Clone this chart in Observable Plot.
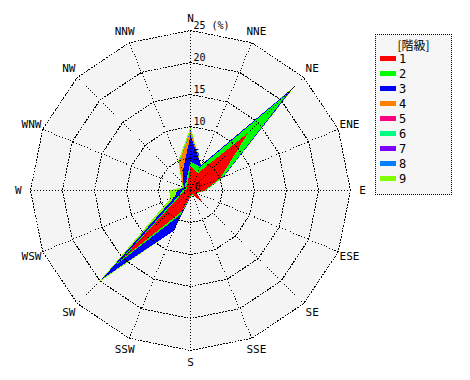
<!DOCTYPE html>
<html><head><meta charset="utf-8">
<script src="https://cdn.jsdelivr.net/npm/d3@7"></script>
<script src="https://cdn.jsdelivr.net/npm/@observablehq/plot@0.6"></script>
<style>
body{margin:0;background:#fff;}
#wrap{position:relative;width:470px;height:380px;}
#legend{position:absolute;left:375px;top:34px;width:77px;height:161px;border:1px dotted #000;background:#f6f6f6;box-sizing:border-box;font-family:"DejaVu Sans Mono","Noto Sans CJK JP",monospace;font-size:12px;color:#000;}
#legend .title{position:absolute;left:0;width:100%;top:2px;text-align:center;font-family:"Noto Sans CJK JP",monospace;font-size:12px;line-height:15px;}
#legend .item{position:absolute;left:4px;height:14px;line-height:14px;}
#legend .sw{display:inline-block;width:16px;height:5px;vertical-align:middle;margin-right:3px;position:relative;top:-1px;}
</style></head>
<body><div id="wrap"><div id="chart"></div><div id="legend"></div></div>
<script>
const directions = ["N","NNE","NE","ENE","E","ESE","SE","SSE","S","SSW","SW","WSW","W","WNW","NW","NNW"];
const classes = ["1","2","3","4","5","6","7","8","9"];
const colors = ["#ff0000","#00ff00","#0000ff","#ff8000","#ff0080","#00ff80","#8000ff","#0080ff","#80ff00"];
// frequency (%) per class, in direction order N..NNW
const c1 = [3.9, 2.9, 12.7, 5.0, 2.2, 1.0, 2.6, 0.6, 0.9, 3.5, 15.5, 1.5, 0.9, 0.6, 0.9, 1.2];
const c2 = [0.6, 1.1,  8.9, 0.5, 0.2, 0.1, 0.0, 0.1, 0.1, 0.6,  0.8, 0.4, 0.4, 0.2, 0.3, 0.5];
const c3 = [4.1, 0.3,  1.2, 0.1, 0.0, 0.0, 0.0, 0.0, 0.1, 2.7,  3.2, 0.8, 0.8, 0.3, 0.4, 1.5];
const c4 = [0.5, 0.0,  0.0, 0.0, 0.0, 0.0, 0.0, 0.0, 0.0, 0.0,  0.0, 0.0, 0.0, 0.1, 0.2, 1.5];
const c5 = [0.0, 0.0,  0.0, 0.0, 0.0, 0.0, 0.0, 0.0, 0.0, 0.0,  0.0, 0.0, 0.0, 0.0, 0.0, 0.0];
const c6 = [0.0, 0.0,  0.0, 0.0, 0.0, 0.0, 0.0, 0.0, 0.0, 0.0,  0.0, 0.0, 0.0, 0.0, 0.0, 0.0];
const c7 = [0.0, 0.0,  0.0, 0.0, 0.0, 0.0, 0.0, 0.0, 0.0, 0.0,  0.0, 0.0, 0.0, 0.0, 0.0, 0.0];
const c8 = [0.2, 0.0,  0.0, 0.0, 0.0, 0.0, 0.0, 0.0, 0.0, 0.0,  0.0, 0.0, 0.0, 0.0, 0.0, 0.0];
const c9 = [0.6, 0.0,  0.3, 0.0, 0.0, 0.0, 0.0, 0.0, 0.0, 0.0,  0.8, 0.8, 1.2, 0.2, 0.2, 0.3];
const ringValues = [5, 10, 15, 20, 25];
const ringLabels = ["5", "10", "15", "20", "25 (%)"];
const centerLabel = "0";

const series = [c1, c2, c3, c4, c5, c6, c7, c8, c9];
const theta = i => i * Math.PI / 8;
const px = (r, i) => r * Math.sin(theta(i));
const py = (r, i) => r * Math.cos(theta(i));

// cumulative stacking across classes
const cum = directions.map((d, i) => d3.cumsum(series.map(s => s[i])));
const layers = classes.map((c, k) => directions.map((d, i) => ({cls: c, dir: d, i, r: cum[i][k]}))).reverse();

const rmax = d3.max(ringValues);
const ringPts = ringValues.flatMap(v => directions.map((d, i) => ({v, i})));
const outline = directions.map((d, i) => ({i}));
const labelR = rmax * 1.076;

const chart = Plot.plot({
  width: 470, height: 380, margin: 0,
  x: {domain: [-29.6875, 43.75], axis: null},
  y: {domain: [-29.6875, 29.6875], axis: null},
  style: {fontFamily: "DejaVu Sans Mono, monospace", background: "transparent"},
  marks: [
    Plot.line(outline, {x: d => px(rmax, d.i), y: d => py(rmax, d.i), curve: "linear-closed", fill: "#f4f4f4", stroke: "none"}),
    ...layers.map((L, j) => Plot.line(L, {x: d => px(d.r, d.i), y: d => py(d.r, d.i), curve: "linear-closed",
      fill: colors[classes.indexOf(L[0].cls)], stroke: "none", shapeRendering: "crispEdges"})),
    Plot.line(ringPts, {x: d => px(d.v, d.i), y: d => py(d.v, d.i), z: "v", curve: "linear-closed", fill: "none",
      stroke: "#000", strokeWidth: 1, strokeDasharray: "1,2", shapeRendering: "crispEdges"}),
    Plot.link(outline, {x1: 0, y1: 0, x2: d => px(rmax, d.i), y2: d => py(rmax, d.i), stroke: "#000", strokeWidth: 1, strokeDasharray: "1,2", shapeRendering: "crispEdges"}),
    Plot.text(directions, {x: (d, i) => px(labelR, i), y: (d, i) => py(labelR, i), text: d => d, fontSize: 11, fill: "#000"}),
    Plot.text(ringValues, {x: 0, y: d => d, text: (d, i) => ringLabels[i], textAnchor: "start", dx: 3, dy: -5, fontSize: 10, fill: "#000"}),
    Plot.text([0], {x: 0, y: 0, text: () => centerLabel, textAnchor: "start", dx: 4, dy: -4, fontSize: 10, fill: "#000"})
  ]
});
document.getElementById("chart").appendChild(chart);

const legend = document.getElementById("legend");
const t = document.createElement("div");
t.className = "title"; t.textContent = "[階級]";
legend.appendChild(t);
classes.forEach((c, k) => {
  const it = document.createElement("div");
  it.className = "item";
  it.style.top = (17 + k * 15) + "px";
  it.innerHTML = `<span class="sw" style="background:${colors[k]}"></span>${c}`;
  legend.appendChild(it);
});
</script>
</body></html>
